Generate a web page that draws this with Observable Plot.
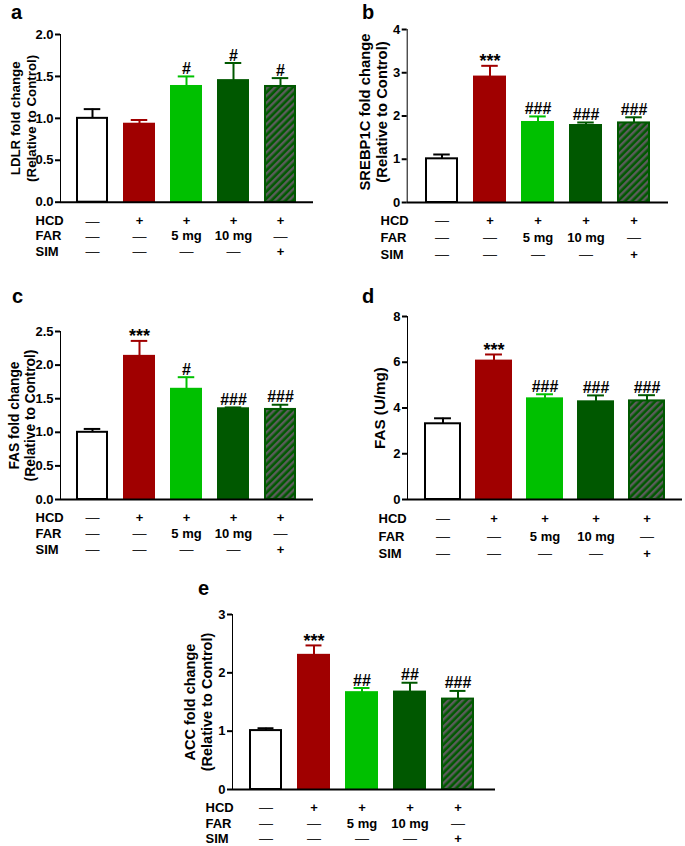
<!DOCTYPE html>
<html><head><meta charset="utf-8">
<script src="https://cdn.jsdelivr.net/npm/d3@7"></script>
<script src="https://cdn.jsdelivr.net/npm/@observablehq/plot@0.6"></script>
<style>
body{margin:0;background:#fff;}
#wrap{position:relative;width:685px;height:846px;overflow:hidden;font-family:"Liberation Sans",Arial,sans-serif;background:#fff;}
.panel{position:absolute;}
.panel svg{overflow:visible;}
.letter{position:absolute;font-weight:bold;font-size:20px;line-height:14px;color:#000;}
.panel svg [aria-label^="y-axis"] path,.panel svg [aria-label^="y-axis"] line{stroke-width:2px;stroke:#000;}
</style></head><body>
<svg width="0" height="0" style="position:absolute">
<defs><pattern id="hatch" patternUnits="userSpaceOnUse" width="5" height="5" patternTransform="rotate(45)">
<rect width="5" height="5" fill="#005800"/><rect width="2.4" height="5" fill="#5c5c5c"/></pattern></defs></svg>
<div id="wrap"></div>
<script>
// ---------- data ----------
const groups = ["Control", "HCD", "HCD+FAR 5 mg", "HCD+FAR 10 mg", "HCD+SIM"];
const rowNames = ["HCD", "FAR", "SIM"];
const hcdRow = ["—", "+", "+", "+", "+"];
const farRow = ["—", "—", "5 mg", "10 mg", "—"];
const simRow = ["—", "—", "—", "—", "+"];

const ldlrMean = [1.00, 0.93, 1.38, 1.45, 1.38];
const ldlrErr  = [0.11, 0.05, 0.12, 0.21, 0.10];
const ldlrSig  = ["", "", "#", "#", "#"];

const srebpMean = [1.01, 2.90, 1.85, 1.78, 1.84];
const srebpErr  = [0.10, 0.26, 0.14, 0.07, 0.13];
const srebpSig  = ["", "***", "###", "###", "###"];

const fasMean = [1.00, 2.13, 1.64, 1.35, 1.34];
const fasErr  = [0.05, 0.23, 0.18, 0.02, 0.07];
const fasSig  = ["", "***", "#", "###", "###"];

const fasActMean = [3.31, 6.05, 4.40, 4.27, 4.31];
const fasActErr  = [0.24, 0.29, 0.20, 0.28, 0.25];
const fasActSig  = ["", "***", "###", "###", "###"];

const accMean = [1.01, 2.30, 1.66, 1.67, 1.55];
const accErr  = [0.04, 0.17, 0.08, 0.16, 0.14];
const accSig  = ["", "***", "##", "##", "###"];

const ticksA = [0, 0.5, 1.0, 1.5, 2.0];
const ticksB = [0, 1, 2, 3, 4];
const ticksC = [0, 0.5, 1.0, 1.5, 2.0, 2.5];
const ticksD = [0, 2, 4, 6, 8];
const ticksE = [0, 1, 2, 3];

const labelA = ["LDLR fold change", "(Relative to Control)"];
const labelB = ["SREBP1C fold change", "(Relative to Control)"];
const labelC = ["FAS fold change", "(Relative to Control)"];
const labelD = ["FAS (U/mg)"];
const labelE = ["ACC fold change", "(Relative to Control)"];

// ---------- styles ----------
const barFills   = ["#ffffff", "#a00000", "#00c000", "#005800", "url(#hatch)"];
const barStrokes = ["#000000", "#a00000", "#00c000", "#005800", "#005800"];

// ---------- layout ----------
const panels = [
  {letter:"a", mean:ldlrMean, err:ldlrErr, sig:ldlrSig, ticks:ticksA, fmt:".1f", ylabel:labelA, lfs:13.3, ldy:0,
   left:0, top:0, w:320, h:265, mL:60, mR:7, mT:34, mB:63.3, xr:[68,305], pad:0.357, rowDy:[19,34,49.5], rowDx:-25, labelDx:-32.3,
   lx:11, ly:5},
  {letter:"b", mean:srebpMean, err:srebpErr, sig:srebpSig, ticks:ticksB, fmt:"d", ylabel:labelB, lfs:14.8, ldy:-4,
   left:340, top:0, w:340, h:265, mL:66.7, mR:12, mT:29, mB:63, xr:[75,319.5], pad:0.356, rowDy:[18,35,52], rowDx:-26.7, labelDx:-29,
   lx:362, ly:5},
  {letter:"c", mean:fasMean, err:fasErr, sig:fasSig, ticks:ticksC, fmt:".1f", ylabel:labelC, lfs:13.8, ldy:0,
   left:0, top:280, w:320, h:285, mL:60, mR:7, mT:51, mB:66, xr:[68,305], pad:0.357, rowDy:[18,34,50], rowDx:-25, labelDx:-33.4,
   lx:12, ly:289},
  {letter:"d", mean:fasActMean, err:fasActErr, sig:fasActSig, ticks:ticksD, fmt:"d", ylabel:labelD, lfs:15.2, ldy:0,
   left:340, top:280, w:345, h:285, mL:67, mR:3, mT:36, mB:66, xr:[75.3,333.3], pad:0.32, rowDy:[19,37,54], rowDx:-29, labelDx:-22.6,
   lx:362, ly:289},
  {letter:"e", mean:accMean, err:accErr, sig:accSig, ticks:ticksE, fmt:"d", ylabel:labelE, lfs:14.5, ldy:0,
   left:170, top:560, w:330, h:286, mL:62, mR:5, mT:54, mB:57, xr:[69.7,314.2], pad:0.345, rowDy:[18,34,49], rowDx:-27, labelDx:-29.3,
   lx:198, ly:581}
];

const wrap = document.getElementById("wrap");
const rows = [hcdRow, farRow, simRow];

function drawPanel(p) {
  const data = groups.map((g, i) => ({g, v: p.mean[i], top: p.mean[i] + p.err[i], sig: p.sig[i], fill: barFills[i], stroke: barStrokes[i]}));
  const step = (p.xr[1] - p.xr[0]) / groups.length;
  const bw = step * (1 - p.pad);
  const capInset = Math.max(0, (bw - 17) / 2);
  const yMax = p.ticks[p.ticks.length - 1];
  const tableMarks = [];
  rows.forEach((row, r) => {
    const cells = groups.map((g, i) => ({g, t: row[i]}));
    tableMarks.push(Plot.text(cells.filter(c => c.t !== "—"), {x: "g", y: null, text: "t", frameAnchor: "bottom", dy: p.rowDy[r], lineAnchor: "middle", fontSize: 13, fontWeight: "bold", fill: "#000"}));
    tableMarks.push(Plot.text(cells.filter(c => c.t === "—"), {x: "g", y: null, text: "t", frameAnchor: "bottom", dy: p.rowDy[r], lineAnchor: "middle", fontSize: 14, fontWeight: "normal", fill: "#222"}));
    tableMarks.push(Plot.text([rowNames[r]], {x: null, y: null, text: d => d, frameAnchor: "bottom-left", dx: p.rowDx, dy: p.rowDy[r], textAnchor: "start", lineAnchor: "middle", fontSize: 13, fontWeight: "bold", fill: "#000"}));
  });
  const n = p.ylabel.length;
  const spacing = 1.17 * p.lfs;
  const labelMarks = p.ylabel.map((line, k) =>
    Plot.text([line], {x: null, y: null, text: d => d, frameAnchor: "left", rotate: -90,
      dx: p.labelDx + (k - (n - 1) / 2) * spacing - 0.32 * p.lfs, dy: p.ldy,
      lineAnchor: "middle", textAnchor: "middle", fontSize: p.lfs, fontWeight: "bold", fill: "#000"}));
  const chart = Plot.plot({
    width: p.w, height: p.h,
    marginLeft: p.mL, marginRight: p.mR, marginTop: p.mT, marginBottom: p.mB,
    x: {domain: groups, range: p.xr, paddingInner: p.pad, paddingOuter: p.pad / 2, axis: null},
    y: {domain: [0, yMax], ticks: p.ticks, tickFormat: d3.format(p.fmt), tickSize: 5, tickPadding: 2, line: true, label: null},
    color: {type: "identity"},
    style: {fontFamily: "'Liberation Sans', Arial, sans-serif", fontSize: "13px", fontWeight: "bold", color: "#000", background: "transparent", overflow: "visible"},
    marks: [
      Plot.ruleX(data, {x: "g", y1: "v", y2: "top", stroke: "stroke", strokeWidth: 2}),
      Plot.tickY(data, {x: "g", y: "top", stroke: "stroke", strokeWidth: 2, insetLeft: capInset, insetRight: capInset}),
      Plot.barY(data, {x: "g", y: "v", fill: "fill", stroke: "stroke", strokeWidth: 2}),
      Plot.ruleY([0], {stroke: "#000", strokeWidth: 2}),
      Plot.text(data.filter(d => d.sig.startsWith("#")), {x: "g", y: "top", text: "sig", lineAnchor: "bottom", dy: -2.5, fontSize: 16, fontWeight: "bold", fill: "#000"}),
      Plot.text(data.filter(d => d.sig.startsWith("*")), {x: "g", y: "top", text: "sig", lineAnchor: "bottom", dy: 1.5, fontSize: 18, fontWeight: "bold", fill: "#000"}),
      ...tableMarks,
      ...labelMarks
    ]
  });
  const div = document.createElement("div");
  div.className = "panel";
  div.style.left = p.left + "px";
  div.style.top = p.top + "px";
  div.appendChild(chart);
  wrap.appendChild(div);
  const lt = document.createElement("div");
  lt.className = "letter";
  lt.textContent = p.letter;
  lt.style.left = p.lx + "px";
  lt.style.top = p.ly + "px";
  wrap.appendChild(lt);
}
panels.forEach(drawPanel);
</script>
</body></html>
